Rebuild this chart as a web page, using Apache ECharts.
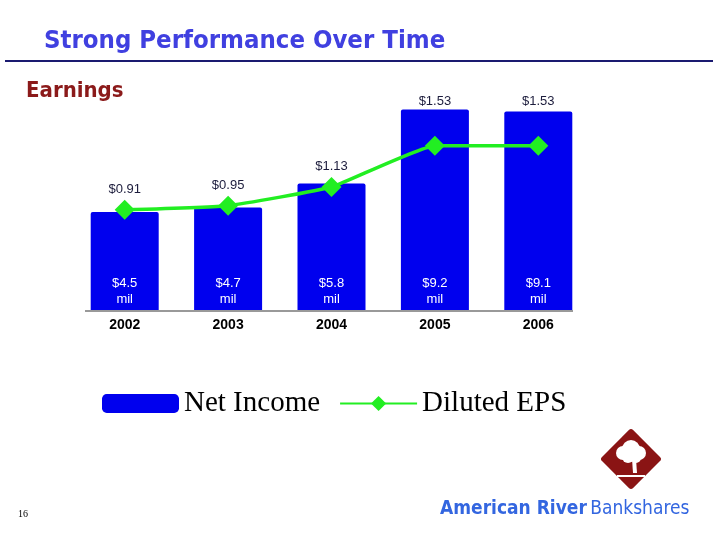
<!DOCTYPE html>
<html>
<head>
<meta charset="utf-8">
<script src="https://cdn.jsdelivr.net/npm/echarts@6/dist/echarts.min.js"></script>
<style>
  html, body { margin: 0; padding: 0; background: #fff; }
  #chart { width: 720px; height: 540px; }
</style>
</head>
<body>
<div id="chart"></div>
<script>
// data
const years = ['2002', '2003', '2004', '2005', '2006']
const netIncome = [4.5, 4.7, 5.8, 9.2, 9.1]      // $ millions
const dilutedEps = [0.91, 0.95, 1.13, 1.53, 1.53] // $ per share

const chart = echarts.init(document.getElementById('chart'))

const labelColor = '#1c1c3c'

const option = {
  backgroundColor: '#fff',
  animation: false,
  grid: { left: 73, right: 130, top: 92, bottom: 230 },
  legend: {
    left: 97,
    top: 384,
    itemWidth: 77,
    itemHeight: 19,
    itemGap: 19,
    textStyle: { fontFamily: 'Liberation Serif', fontSize: 29, color: '#000' },
    data: [
      { name: 'Net Income', icon: 'roundRect' },
      { name: 'Diluted EPS' }
    ]
  },
  xAxis: {
    type: 'category',
    data: years,
    axisTick: { show: false },
    axisLine: { show: false },
    axisLabel: {
      margin: 8,
      color: '#000',
      fontFamily: 'Liberation Sans',
      fontWeight: 'bold',
      fontSize: 14
    }
  },
  yAxis: [
    { type: 'value', min: 0, max: 10, show: false },
    { type: 'value', min: -0.06, max: 2.05, show: false }
  ],
  series: [
    {
      name: 'Net Income',
      type: 'bar',
      data: netIncome,
      barWidth: 68,
      itemStyle: { color: '#0000ee', borderRadius: [2, 2, 0, 0] },
      label: {
        show: true,
        position: 'insideBottom',
        distance: 3,
        color: '#fff',
        fontFamily: 'Liberation Sans',
        fontSize: 13,
        lineHeight: 16,
        formatter: p => '$' + p.value + '\nmil'
      }
    },
    {
      name: 'Diluted EPS',
      type: 'line',
      yAxisIndex: 1,
      data: dilutedEps.map((v, i) => ({
        value: v,
        // the last two labels sit above the tall bars
        label: { distance: i >= 3 ? 28 : 4 }
      })),
      symbol: 'diamond',
      symbolSize: 20,
      smooth: 0.12,
      lineStyle: { color: '#22ee22', width: 3.5 },
      itemStyle: { color: '#22ee22' },
      label: {
        show: true,
        position: 'top',
        color: labelColor,
        fontFamily: 'Liberation Sans',
        fontSize: 13,
        formatter: p => '$' + p.value.toFixed(2)
      }
    }
  ],
  graphic: [
    {
      type: 'text',
      left: 44,
      top: 28,
      style: {
        text: 'Strong Performance Over Time',
        fill: '#4040e0',
        font: 'bold 25.5px "DejaVu Sans Condensed"'
      }
    },
    {
      type: 'line',
      shape: { x1: 5, y1: 61, x2: 713, y2: 61 },
      style: { stroke: '#1a1a70', lineWidth: 2 }
    },
    // baseline under the bars
    {
      type: 'line',
      shape: { x1: 85, y1: 311, x2: 573, y2: 311 },
      style: { stroke: '#999', lineWidth: 2 }
    },
    {
      type: 'text',
      left: 26,
      top: 80,
      style: {
        text: 'Earnings',
        fill: '#8b1a1a',
        font: 'bold 22px "DejaVu Sans Condensed"'
      }
    },
    {
      type: 'text',
      left: 18,
      top: 509,
      style: { text: '16', fill: '#000', font: '10px "Liberation Serif"' }
    },
    // logo: red diamond with a white tree
    {
      type: 'group',
      x: 631,
      y: 459,
      children: [
        {
          type: 'rect',
          rotation: Math.PI / 4,
          shape: { x: -22, y: -22, width: 44, height: 44, r: 3 },
          style: { fill: '#8a1414' }
        },
        { type: 'circle', shape: { cx: 0, cy: -10, r: 9 }, style: { fill: '#fff' } },
        { type: 'circle', shape: { cx: -8, cy: -6, r: 7 }, style: { fill: '#fff' } },
        { type: 'circle', shape: { cx: 8, cy: -6, r: 7 }, style: { fill: '#fff' } },
        { type: 'circle', shape: { cx: -3, cy: -2, r: 6 }, style: { fill: '#fff' } },
        { type: 'circle', shape: { cx: 5, cy: -1, r: 5 }, style: { fill: '#fff' } },
        {
          type: 'polygon',
          shape: { points: [[1, 0], [5, 0], [6, 14], [2, 14]] },
          style: { fill: '#fff' }
        },
        {
          type: 'rect',
          shape: { x: -14, y: 16, width: 28, height: 2 },
          style: { fill: '#fff' }
        }
      ]
    },
    {
      type: 'text',
      left: 440,
      top: 500,
      style: {
        text: '{a|American River} {b|Bankshares}',
        rich: {
          a: { fill: '#3366e0', font: 'bold 19px "DejaVu Sans Condensed"' },
          b: { fill: '#3366e0', font: '19px "DejaVu Sans Condensed"' }
        }
      }
    }
  ]
}

chart.setOption(option)
</script>
</body>
</html>
